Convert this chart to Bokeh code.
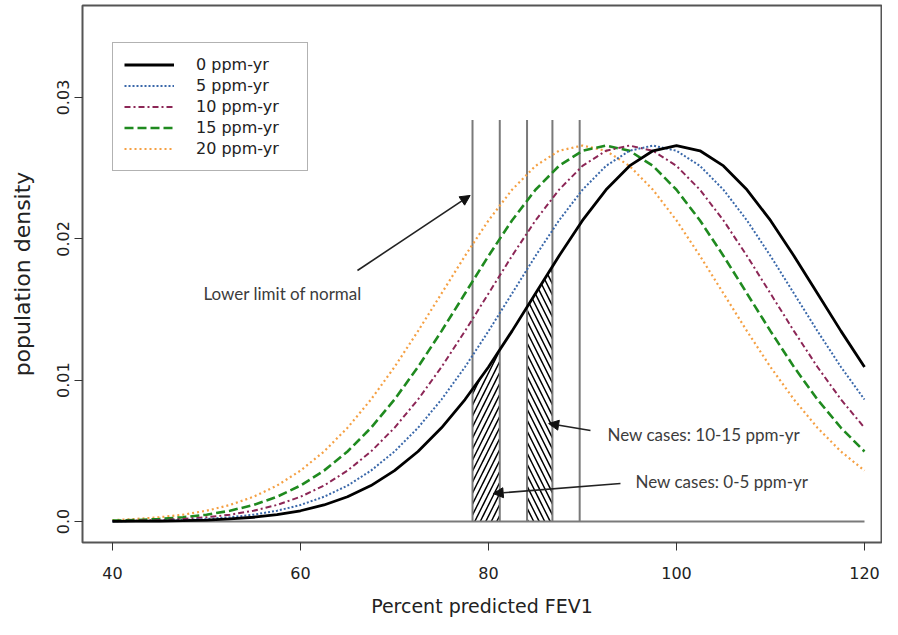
from bokeh.plotting import figure
from bokeh.models import Range1d, FixedTicker, Legend, LegendItem, Arrow, NormalHead, Label
from bokeh.embed import file_html
from bokeh.resources import INLINE

# ---- data ----
percent = [40, 42.5, 45, 47.5, 50, 52.5, 55, 57.5, 60, 62.5, 65, 67.5, 70, 72.5, 75, 77.5,
           80, 82.5, 85, 87.5, 90, 92.5, 95, 97.5, 100, 102.5, 105, 107.5, 110, 112.5, 115, 117.5, 120]

dens_0 = [0.00001, 0.00002, 0.00003, 0.00006, 0.00010, 0.00018, 0.00030, 0.00048, 0.00076, 0.00117,
          0.00175, 0.00254, 0.00360, 0.00495, 0.00663, 0.00863, 0.01093, 0.01347, 0.01613, 0.01879,
          0.02130, 0.02347, 0.02516, 0.02623, 0.02660, 0.02623, 0.02516, 0.02347, 0.02130, 0.01879,
          0.01613, 0.01347, 0.01093]
dens_5 = [0.00002, 0.00003, 0.00006, 0.00010, 0.00018, 0.00030, 0.00048, 0.00076, 0.00117, 0.00175,
          0.00254, 0.00360, 0.00495, 0.00663, 0.00863, 0.01093, 0.01347, 0.01613, 0.01879, 0.02130,
          0.02347, 0.02516, 0.02623, 0.02660, 0.02623, 0.02516, 0.02347, 0.02130, 0.01879, 0.01613,
          0.01347, 0.01093, 0.00863]
dens_10 = [0.00003, 0.00006, 0.00010, 0.00018, 0.00030, 0.00048, 0.00076, 0.00117, 0.00175, 0.00254,
           0.00360, 0.00495, 0.00663, 0.00863, 0.01093, 0.01347, 0.01613, 0.01879, 0.02130, 0.02347,
           0.02516, 0.02623, 0.02660, 0.02623, 0.02516, 0.02347, 0.02130, 0.01879, 0.01613, 0.01347,
           0.01093, 0.00863, 0.00663]
dens_15 = [0.00006, 0.00010, 0.00018, 0.00030, 0.00048, 0.00076, 0.00117, 0.00175, 0.00254, 0.00360,
           0.00495, 0.00663, 0.00863, 0.01093, 0.01347, 0.01613, 0.01879, 0.02130, 0.02347, 0.02516,
           0.02623, 0.02660, 0.02623, 0.02516, 0.02347, 0.02130, 0.01879, 0.01613, 0.01347, 0.01093,
           0.00863, 0.00663, 0.00495]
dens_20 = [0.00010, 0.00018, 0.00030, 0.00048, 0.00076, 0.00117, 0.00175, 0.00254, 0.00360, 0.00495,
           0.00663, 0.00863, 0.01093, 0.01347, 0.01613, 0.01879, 0.02130, 0.02347, 0.02516, 0.02623,
           0.02660, 0.02623, 0.02516, 0.02347, 0.02130, 0.01879, 0.01613, 0.01347, 0.01093, 0.00863,
           0.00663, 0.00495, 0.00360]

series_labels = ["0 ppm-yr", "5 ppm-yr", "10 ppm-yr", "15 ppm-yr", "20 ppm-yr"]

limit_lines_x = [78.3, 81.2, 84.1, 86.8, 89.7]
limit_lines_top = [0.0284, 0.0284, 0.0284, 0.0284, 0.0284]

hatch_a_x = [78.3, 79.75, 81.2]
hatch_a_top = [0.0093, 0.0107, 0.0121]
hatch_b_x = [84.1, 85.45, 86.8]
hatch_b_top = [0.0152, 0.0166, 0.0181]

x_ticks = [40, 60, 80, 100, 120]
y_ticks = [0, 0.01, 0.02, 0.03]
y_tick_labels = ["0.0", "0.01", "0.02", "0.03"]

# ---- figure ----
p = figure(width=882, height=619,
           x_range=Range1d(36.809, 121.809), y_range=Range1d(-0.001486, 0.036509),
           output_backend="svg", toolbar_location=None,
           min_border_left=82, min_border_right=1, min_border_top=5, min_border_bottom=77)
p.xgrid.visible = False
p.ygrid.visible = False
p.outline_line_color = "#555555"
p.outline_line_width = 2
p.background_fill_color = "white"
p.border_fill_color = "white"

# hatched areas
p.varea(x=hatch_a_x, y1=[0, 0, 0], y2=hatch_a_top, fill_color="white", fill_alpha=1,
        hatch_pattern="/", hatch_color="black", hatch_weight=1.5, hatch_scale=11)
p.varea(x=hatch_b_x, y1=[0, 0, 0], y2=hatch_b_top, fill_color="white", fill_alpha=1,
        hatch_pattern="\\", hatch_color="black", hatch_weight=1.5, hatch_scale=11)

# vertical lines and baseline
p.segment(x0=limit_lines_x, y0=[0] * len(limit_lines_x), x1=limit_lines_x, y1=limit_lines_top,
          line_color="#7a7a7a", line_width=2)
p.segment(x0=[percent[0]], y0=[0], x1=[percent[-1]], y1=[0], line_color="#7a7a7a", line_width=2)

# curves
r20 = p.line(percent, dens_20, line_color="#f5a043", line_width=2.2, line_dash="2 3")
r15 = p.line(percent, dens_15, line_color="#1f8a1f", line_width=2.6, line_dash="9 4")
r10 = p.line(percent, dens_10, line_color="#8c2656", line_width=2, line_dash="6 3 2 3")
r5 = p.line(percent, dens_5, line_color="#3a68aa", line_width=2, line_dash="2 2")
r0 = p.line(percent, dens_0, line_color="black", line_width=2.8)

legend = Legend(items=[LegendItem(label=series_labels[0], renderers=[r0]),
                       LegendItem(label=series_labels[1], renderers=[r5]),
                       LegendItem(label=series_labels[2], renderers=[r10]),
                       LegendItem(label=series_labels[3], renderers=[r15]),
                       LegendItem(label=series_labels[4], renderers=[r20])],
                location=(30, 371), padding=11, spacing=0, margin=0,
                label_height=21, glyph_height=21, glyph_width=50, label_standoff=22, label_width=100,
                label_text_font="DejaVu Sans", label_text_font_size="16px", label_text_color="#222222",
                border_line_color="#666666", border_line_width=1.5, background_fill_alpha=1)
p.add_layout(legend)

# axes
p.xaxis.ticker = FixedTicker(ticks=x_ticks)
p.xaxis.axis_line_color = None
p.xaxis.major_tick_out = 8
p.xaxis.major_tick_in = 0
p.xaxis.minor_tick_out = 0
p.xaxis.minor_tick_in = 0
p.xaxis.major_tick_line_color = "#333333"
p.xaxis.major_label_standoff = 16
p.xaxis.major_label_text_font = "DejaVu Sans"
p.xaxis.major_label_text_font_size = "16px"
p.xaxis.major_label_text_color = "#222222"
p.xaxis.axis_label = "Percent predicted FEV1"
p.xaxis.axis_label_text_font = "DejaVu Sans"
p.xaxis.axis_label_text_font_size = "19px"
p.xaxis.axis_label_text_font_style = "normal"
p.xaxis.axis_label_text_color = "#222222"
p.xaxis.axis_label_standoff = 13

p.yaxis.ticker = FixedTicker(ticks=y_ticks)
p.yaxis.major_label_overrides = {t: s for t, s in zip(y_ticks, y_tick_labels)}
p.yaxis.axis_line_color = None
p.yaxis.major_tick_out = 8
p.yaxis.major_tick_in = 0
p.yaxis.minor_tick_out = 0
p.yaxis.minor_tick_in = 0
p.yaxis.major_tick_line_color = "#333333"
p.yaxis.major_label_orientation = "vertical"
p.yaxis.major_label_standoff = 5
p.yaxis.major_label_text_font = "DejaVu Sans"
p.yaxis.major_label_text_font_size = "16px"
p.yaxis.major_label_text_color = "#222222"
p.yaxis.axis_label = "population density"
p.yaxis.axis_label_text_font = "DejaVu Sans"
p.yaxis.axis_label_text_font_size = "22px"
p.yaxis.axis_label_text_font_style = "normal"
p.yaxis.axis_label_text_color = "#222222"
p.yaxis.axis_label_standoff = 20

# annotations
def arrow(x0, y0, x1, y1):
    p.add_layout(Arrow(end=NormalHead(size=10, fill_color="#111111", line_color="#111111"),
                       x_start=x0, y_start=y0, x_end=x1, y_end=y1,
                       line_color="#222222", line_width=1.6))

arrow(66.06, 0.01776, 78.05, 0.02307)
arrow(90.85, 0.00644, 86.4, 0.00693)
arrow(94.04, 0.00269, 80.5, 0.00198)

for x, y, t in [(49.68, 0.01615, "Lower limit of normal"),
                (92.66, 0.00619, "New cases: 10-15 ppm-yr"),
                (95.64, 0.00285, "New cases: 0-5 ppm-yr")]:
    p.add_layout(Label(x=x, y=y, text=t, text_font="Lato", text_font_size="17px",
                       text_color="#3c3c3c", text_baseline="alphabetic", text_align="left"))

open("out.html", "w").write(file_html(p, INLINE))
